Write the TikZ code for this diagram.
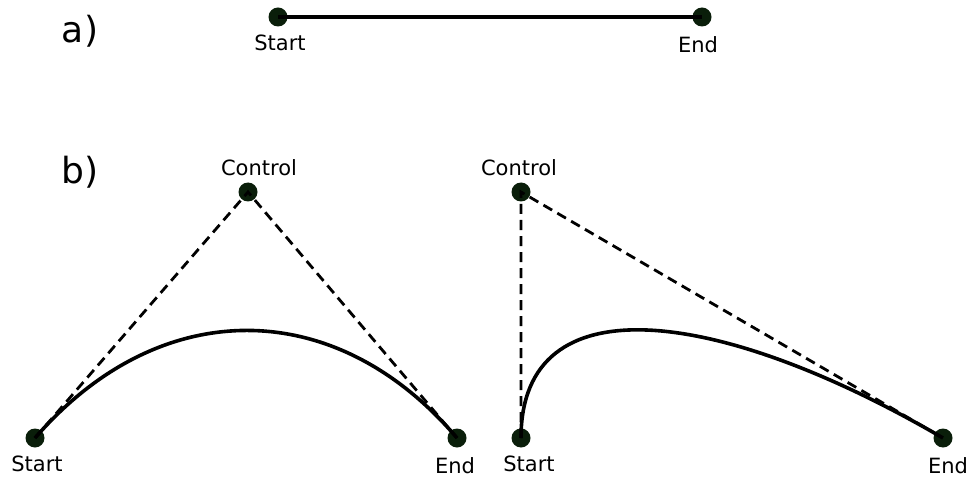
\documentclass[tikz,border=0pt]{standalone}
\usepackage{fontspec}
\setmainfont{DejaVu Sans}
\usepackage{tikz}
\usepackage{xcolor}
\usetikzlibrary{positioning, calc}
\definecolor{cDot}{RGB}{10,30,10}
\tikzset{
	pt/.style       ={circle, fill=cDot, minimum size=19pt, inner sep=0pt},
	lbl/.style      ={font=\fontsize{21pt}{24pt}\selectfont, inner sep=0pt},
	tag/.style      ={font=\fontsize{36pt}{40pt}\selectfont, inner sep=0pt},
	% lines
	seg/.style      ={line width=4.2pt},
	curve/.style    ={line width=3.6pt},
	guide/.style    ={line width=2.8pt, dash pattern=on 10pt off 6pt},
}

\begin{document}
\begin{tikzpicture}[x=1pt, y=-1pt]
					\useasboundingbox (0,0) rectangle (973,478);
					% a) straight line
					\node[tag] (ta) at (80,31) {a)};
					\node[pt] (as) at (278,17) {};
					\node[pt] (ae) at (702,17) {};
					\draw[seg] (as.center) -- (ae.center);
					\node[lbl] (asl) at (280,43) {Start};
					\node[lbl] (ael) at (698,45) {End};
					% b) curves with one control point
					\node[tag] (tb) at (80,172) {b)};
					\node[pt] (ls) at (35,438) {};
					\node[pt] (lc) at (248,192) {};
					\node[pt] (le) at (457,438) {};
					\draw[guide] (ls.center) -- (lc.center) -- (le.center);
					\draw[curve] (ls.center) .. controls ($(ls.center)!0.583!(lc.center)$) and ($(le.center)!0.583!(lc.center)$) .. (le.center);
					\node[lbl] (lcl) at (259,168) {Control};
					\node[lbl] (lsl) at (37,464) {Start};
					\node[lbl] (lel) at (455,466) {End};
					\node[pt] (rs) at (521,438) {};
					\node[pt] (rc) at (521,192) {};
					\node[pt] (re) at (943,438) {};
					\draw[guide] (rs.center) -- (rc.center) -- (re.center);
					\draw[curve] (rs.center) .. controls ($(rs.center)!0.64!(rc.center)$) and ($(re.center)!0.53!(rc.center)$) .. (re.center);
					\node[lbl] (rcl) at (519,168) {Control};
					\node[lbl] (rsl) at (529,464) {Start};
					\node[lbl] (rel) at (948,466) {End};
				\end{tikzpicture}
\end{document}
